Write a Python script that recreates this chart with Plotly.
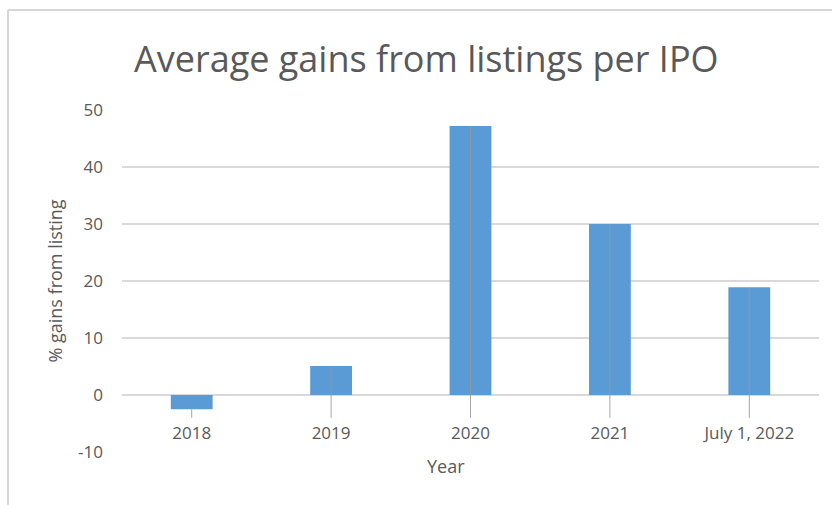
import plotly.graph_objects as go

# Average listing gains per IPO, by year
years = ["2018", "2019", "2020", "2021", "July 1, 2022"]
avg_gain_pct = [-2.5, 5.1, 47.2, 30.0, 18.9]
y_ticks = [-10, 0, 10, 20, 30, 40, 50]

label_level = -7.0   # where the category labels sit, in data units
leader_end = -4.0    # lower end of the leader line from each bar to its label

GREY_TEXT = "#595959"
GRID = "#d9d9d9"
BAR_BLUE = "#5b9bd5"
FONT = "Open Sans"

fig = go.Figure()

fig.add_trace(go.Bar(
    x=years, y=avg_gain_pct, width=0.3,
    marker=dict(color=BAR_BLUE, line=dict(width=0)),
    hoverinfo="x+y", showlegend=False,
))

# leader lines joining each bar to its label
lx, ly = [], []
for cat, val in zip(years, avg_gain_pct):
    lx += [cat, cat, None]
    ly += [val, leader_end, None]
fig.add_trace(go.Scatter(
    x=lx, y=ly, mode="lines",
    line=dict(color="rgba(150,150,150,0.85)", width=1),
    hoverinfo="skip", showlegend=False,
))

# category labels drawn inside the plot area
fig.add_trace(go.Scatter(
    x=years, y=[label_level] * len(years), mode="text", text=years,
    textposition="middle center",
    textfont=dict(family=FONT, size=17, color=GREY_TEXT),
    hoverinfo="skip", showlegend=False,
))

W, H = 832, 505
ML, MR, MT, MB = 122, 13, 110, 53
pw, ph = W - ML - MR, H - MT - MB

def px_x(p):
    return (p - ML) / pw

def px_y(p):
    return (H - MB - p) / ph

fig.update_layout(
    width=W, height=H,
    margin=dict(l=ML, r=MR, t=MT, b=MB, pad=0),
    paper_bgcolor="white", plot_bgcolor="white",
    font=dict(family=FONT, color=GREY_TEXT),
    bargap=0.7,
    xaxis=dict(
        type="category", categoryorder="array", categoryarray=years,
        range=[-0.5, len(years) - 0.5],
        showticklabels=False, showgrid=False, zeroline=False,
        showline=False, ticks="", fixedrange=True,
    ),
    yaxis=dict(
        range=[-10, 50], tickvals=y_ticks,
        ticktext=[str(v) for v in y_ticks],
        showgrid=True, gridcolor=GRID, gridwidth=1.5,
        zeroline=False, showline=False, ticks="",
        ticklabelstandoff=18,
        tickfont=dict(family=FONT, size=17, color=GREY_TEXT),
        title=dict(text="% gains from listing",
                   font=dict(family=FONT, size=18, color=GREY_TEXT),
                   standoff=10),
        fixedrange=True,
    ),
    annotations=[
        dict(text="Average gains from listings per IPO",
             xref="paper", yref="paper", x=px_x(426), y=px_y(59),
             xanchor="center", yanchor="middle", showarrow=False,
             font=dict(family=FONT, size=36, color=GREY_TEXT)),
        dict(text="Year", xref="paper", yref="paper",
             x=px_x(446), y=px_y(466), xanchor="center", yanchor="middle",
             showarrow=False,
             font=dict(family=FONT, size=18, color=GREY_TEXT)),
    ],
    shapes=[
        # chart frame: top and left edges
        dict(type="line", xref="paper", yref="paper",
             x0=px_x(8), x1=px_x(840), y0=px_y(10), y1=px_y(10),
             line=dict(color="#d6d6d6", width=2)),
        dict(type="line", xref="paper", yref="paper",
             x0=px_x(8), x1=px_x(8), y0=px_y(10), y1=px_y(510),
             line=dict(color="#d6d6d6", width=2)),
    ],
)

fig.write_html("out.html")
